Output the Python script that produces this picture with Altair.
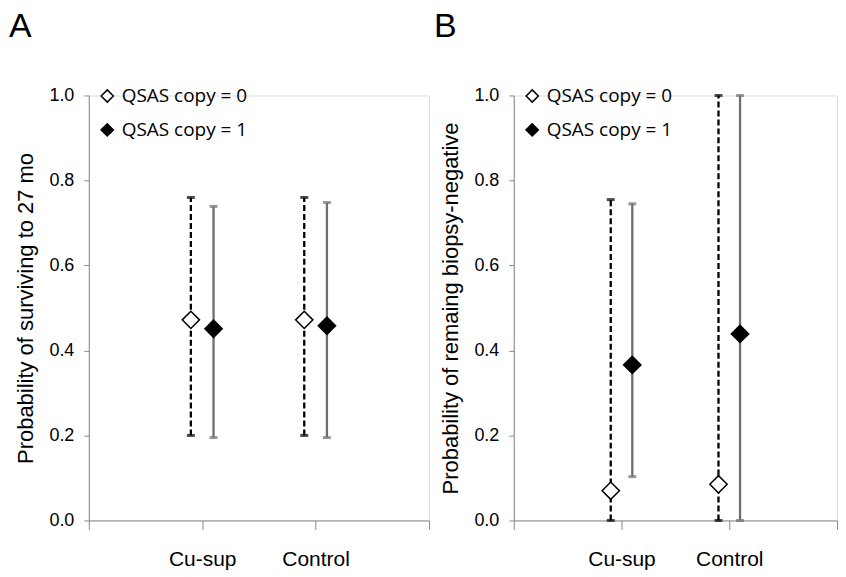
import altair as alt
import pandas as pd

categories = ["Cu-sup", "Control"]
cat_pos = [1, 2]
series = ["QSAS copy = 0", "QSAS copy = 1"]

# Panel A: probability of surviving to 27 mo
a_est = {"QSAS copy = 0": [0.472, 0.472], "QSAS copy = 1": [0.451, 0.458]}
a_low = {"QSAS copy = 0": [0.200, 0.200], "QSAS copy = 1": [0.195, 0.195]}
a_high = {"QSAS copy = 0": [0.760, 0.760], "QSAS copy = 1": [0.739, 0.748]}

# Panel B: probability of remaining biopsy-negative
b_est = {"QSAS copy = 0": [0.070, 0.085], "QSAS copy = 1": [0.366, 0.439]}
b_low = {"QSAS copy = 0": [0.0, 0.0], "QSAS copy = 1": [0.103, 0.0]}
b_high = {"QSAS copy = 0": [0.755, 1.0], "QSAS copy = 1": [0.745, 1.0]}


def make_df(est, low, high):
    rows = []
    for s in series:
        for i, c in enumerate(categories):
            rows.append({"series": s, "category": c, "pos": cat_pos[i],
                         "est": est[s][i], "low": low[s][i], "high": high[s][i]})
    return pd.DataFrame(rows)


FONT = "Open Sans"
x_label_expr = "datum.value == 1 ? 'Cu-sup' : datum.value == 2 ? 'Control' : ''"


def panel(df, letter, ytitle, width):
    base = alt.Chart(df).transform_calculate(
        xx="datum.pos + (datum.series == 'QSAS copy = 0' ? -0.1 : 0.1)"
    )
    x = alt.X("xx:Q", scale=alt.Scale(domain=[0, 3], nice=False, zero=False),
              axis=alt.Axis(values=[0, 1, 2, 3], labelExpr=x_label_expr, title=None,
                            tickSize=9, labelPadding=19, labelFontSize=21,
                            grid=False))
    yscale = alt.Scale(domain=[0, 1], nice=False)
    yaxis = alt.Axis(values=[0, 0.2, 0.4, 0.6, 0.8, 1.0], format=".1f", title=ytitle,
                     tickSize=5, labelPadding=10, labelFontSize=18, titleFontSize=22,
                     titleFontWeight="normal", titlePadding=11, grid=False)
    dash = alt.StrokeDash("series:N", scale=alt.Scale(domain=series, range=[[6, 3], [1, 0]]), legend=None)
    col = alt.Color("series:N", scale=alt.Scale(domain=series, range=["black", "#6e6e6e"]), legend=None)
    rules = base.mark_rule(strokeWidth=2.3).encode(
        x=x, y=alt.Y("low:Q", scale=yscale, axis=yaxis), y2="high:Q",
        strokeDash=dash, color=col)
    caps = base.transform_fold(["low", "high"], as_=["end", "val"]).mark_tick(
        orient="horizontal", size=8, thickness=3).encode(
        x=alt.X("xx:Q"), y=alt.Y("val:Q"), color=col)
    pts = base.mark_point(shape="diamond", filled=True, size=300, stroke="black",
                          strokeWidth=1.5, opacity=1).encode(
        x=alt.X("xx:Q"), y=alt.Y("est:Q"),
        fill=alt.Fill("series:N", scale=alt.Scale(domain=series, range=["white", "black"]),
                      legend=alt.Legend(title=None, orient="none", legendX=9, legendY=-9,
                                        symbolType="diamond", symbolSize=150,
                                        symbolStrokeColor="black", symbolStrokeWidth=1.5,
                                        labelFontSize=19, labelFont=FONT, labelColor="black",
                                        rowPadding=14, labelOffset=5)))
    return alt.layer(rules, caps, pts).properties(
        width=width, height=426,
        title=alt.TitleParams(letter, anchor="start", frame="bounds", fontSize=34,
                              font="Liberation Sans", fontWeight="normal", baseline="alphabetic",
                              offset=16, dx=-6)
    )


dfa = make_df(a_est, a_low, a_high)
dfb = make_df(b_est, b_low, b_high)

chart = alt.hconcat(
    panel(dfa, "A", "Probability of surviving to 27 mo", 341),
    panel(dfb, "B", "Probability of remaing biopsy-negative", 324),
    spacing=3
).resolve_scale(fill="independent").properties(
    padding={"left": 0, "top": 0, "right": 0, "bottom": 0}
).configure_view(stroke=None).configure_axis(
    domainColor="#868686", tickColor="#868686", domainWidth=1.5, tickWidth=1.5,
    labelColor="#222222", titleColor="#222222", labelFont=FONT, titleFont=FONT
).configure(background="white")

chart.save("out.html", embed_options={"renderer": "svg", "actions": False})
